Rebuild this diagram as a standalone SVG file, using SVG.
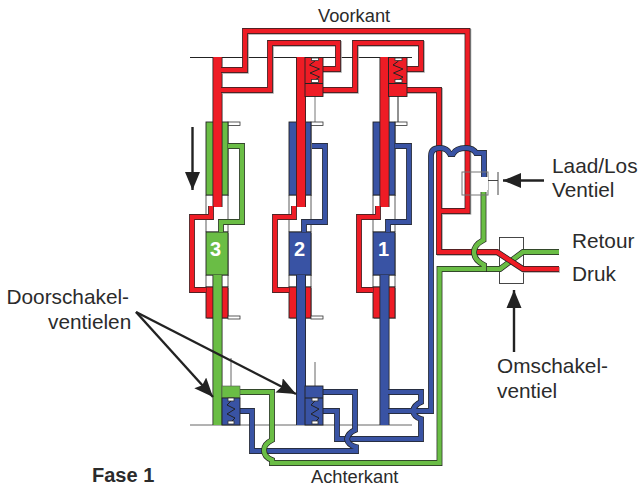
<svg xmlns="http://www.w3.org/2000/svg" xmlns:xlink="http://www.w3.org/1999/xlink" width="641" height="487" viewBox="0 0 641 487">
<style>
text{font-family:"Liberation Sans",Arial,sans-serif;font-size:20.8px;fill:#2b2b2b}
.small{font-size:18.3px}
.num{font-weight:bold;font-size:20px;fill:#fff}
.sh{fill:none;stroke:#a8a8a8;stroke-width:5.8}
.ed{fill:none;stroke:#222;stroke-width:5.8}
.r{fill:none;stroke:#ee1c25;stroke-width:4.4}
.g{fill:none;stroke:#6abd45;stroke-width:4.4}
.b{fill:none;stroke:#3953a4;stroke-width:4.4}
.hl{fill:none;stroke:#222;stroke-width:1}
.fr{fill:#ee1c25}.fg{fill:#6abd45}.fb{fill:#3953a4}
.box{stroke:#222;stroke-width:.9}
.shb{fill:#a8a8a8}
.wh{fill:#fff;stroke:#333;stroke-width:.8}
.ar{stroke:#222;stroke-width:2.4;fill:none}
.head{fill:#222}
.st{fill:none;stroke:#222;stroke-width:1}
</style>
<defs>
<marker id="ah" markerUnits="userSpaceOnUse" markerWidth="22" markerHeight="18" refX="19" refY="8" orient="auto"><path d="M0 0L19 8L0 16L3 8Z" class="head"/></marker>
<marker id="ah2" markerUnits="userSpaceOnUse" markerWidth="22" markerHeight="18" refX="18" refY="8" orient="auto"><path d="M0 0.500L18 8L0 15.500Z" class="head"/></marker>
<g id="cyl">
<rect x="207" y="123" width="22" height="73" class="shb"/>
<path d="M206 195h22v37h-22z" fill="#fff" stroke="#333" stroke-width=".8"/>
<rect x="207" y="233" width="22" height="43" class="shb"/>
<path d="M206 275h22v12h-22z" fill="#fff" stroke="#333" stroke-width=".8"/>
<rect x="207" y="288" width="22" height="31" class="shb"/>
<rect x="206" y="287" width="22" height="31" class="box fr"/>
<rect x="228" y="122" width="12" height="3.500" class="wh"/>
</g>
<path id="p1" d="M221 70H245V31H467.500V211H439"/>
<path id="p2" d="M221 90H270V43H338V69H322"/>
<path id="p3" d="M305 90H355V43H421V69H405"/>
<path id="p4" d="M388 90H439V252H497L523 269H559"/>
<path id="s1" d="M211 206V217H192V290H206"/>
<path id="s2" d="M294 206V217H275V290H289"/>
<path id="s3" d="M378 206V217H359V290H373"/>
<path id="g1" d="M228 146H242V222H221V232"/>
<path id="b2" d="M312 146H325V222H304V232"/>
<path id="b3" d="M395 146H409V222H388V232"/>
<path id="bb1" d="M240 411H252V451H356V447Q348 445 347 439Q348 433 355 430V392H323"/>
<path id="bb2" d="M323 411H337V439H421V419Q414 417 413 411Q414 405 421 402V392H388M388 411H431V156Q431 148 440 148Q447 148 450 154H453Q456 148 466 148Q473 148 476 153H484V178"/>
<path id="gg" d="M240 392H272V440Q264 444 264 450Q264 457 272 460V463H439.500V269H484V265Q474 260 474 252Q474 245 483.500 240V192"/>
<path id="gr" d="M484 269H500L523 252H559"/>
</defs>

<g id="lines">
<path d="M190 57.500H412" class="hl"/>
<path d="M190 425H412" stroke="#666" fill="none"/>
<path d="M315 82V122" stroke="#777" fill="none"/>
<path d="M398 82V122" stroke="#222" fill="none"/>
<path d="M231 358V398M315 362V398" stroke="#666" fill="none"/>
</g>

<g id="cylinder-3"><use xlink:href="#cyl"/><rect x="206" y="122" width="22" height="73" class="fg box"/><rect x="206" y="232" width="22" height="43" class="fg box"/><rect x="228" y="316" width="12" height="3" class="wh"/><text x="210" y="256" class="num">3</text></g>
<g id="cylinder-2" transform="translate(83,0)"><use xlink:href="#cyl"/><rect x="206" y="122" width="22" height="73" class="fb box"/><rect x="206" y="232" width="22" height="43" class="fb box"/><rect x="228" y="316" width="12" height="3" class="wh"/><text x="211" y="256" class="num">2</text></g>
<g id="cylinder-1" transform="translate(167,0)"><use xlink:href="#cyl"/><rect x="206" y="122" width="22" height="73" class="fb box"/><rect x="206" y="232" width="22" height="43" class="fb box"/><text x="211" y="256" class="num">1</text></g>

<g id="omschakel">
<rect x="499.500" y="237.500" width="24" height="46" fill="#fff" stroke="#333" stroke-width=".9"/>
</g>

<g id="connectors">
<path d="M217.500 275V425" stroke="#222" stroke-width="10" fill="none"/><path d="M217.500 275V425" stroke="#6abd45" stroke-width="8.400" fill="none"/>
<path d="M301 275V425" stroke="#222" stroke-width="10" fill="none"/><path d="M301 275V425" stroke="#3953a4" stroke-width="8.400" fill="none"/>
<path d="M384.500 275V425" stroke="#222" stroke-width="10" fill="none"/><path d="M384.500 275V425" stroke="#3953a4" stroke-width="8.400" fill="none"/>
<path d="M217.500 57V207" stroke="#222" stroke-width="10" fill="none"/><path d="M217.500 57V207" stroke="#ee1c25" stroke-width="8.400" fill="none"/>
<path d="M301 57V207" stroke="#222" stroke-width="10" fill="none"/><path d="M301 57V207" stroke="#ee1c25" stroke-width="8.400" fill="none"/>
<path d="M384.500 57V207" stroke="#222" stroke-width="10" fill="none"/><path d="M384.500 57V207" stroke="#ee1c25" stroke-width="8.400" fill="none"/>

<g transform="translate(.9,.9)"><use xlink:href="#p1" class="sh"/><use xlink:href="#p2" class="sh"/><use xlink:href="#p3" class="sh"/><use xlink:href="#p4" class="sh"/></g>
<use xlink:href="#gr" class="ed"/><use xlink:href="#gr" class="g"/>
<use xlink:href="#p1" class="ed"/><use xlink:href="#p2" class="ed"/><use xlink:href="#p3" class="ed"/><use xlink:href="#p4" class="ed"/>
<use xlink:href="#p1" class="r"/><use xlink:href="#p2" class="r"/><use xlink:href="#p3" class="r"/><use xlink:href="#p4" class="r"/>
<use xlink:href="#s1" class="ed"/><use xlink:href="#s2" class="ed"/><use xlink:href="#s3" class="ed"/>
<use xlink:href="#s1" class="r"/><use xlink:href="#s2" class="r"/><use xlink:href="#s3" class="r"/>
<use xlink:href="#g1" class="ed"/><use xlink:href="#g1" class="g"/>
<use xlink:href="#b2" class="ed"/><use xlink:href="#b2" class="b"/>
<use xlink:href="#b3" class="ed"/><use xlink:href="#b3" class="b"/>
<use xlink:href="#bb2" class="ed"/><use xlink:href="#bb2" class="b"/>
<use xlink:href="#bb1" class="ed"/><use xlink:href="#bb1" class="b"/>
<use xlink:href="#gg" class="ed"/><use xlink:href="#gg" class="g"/>
</g>

<g id="valve-2">
<rect x="305" y="57.500" width="18" height="39" class="fr box"/>
<path d="M305 83.500H323" class="st"/>
<path d="M315 61L309.500 65L319.500 69L310 73L319.500 77L315 80" class="st"/>
<rect x="311.500" y="58" width="7" height="2.500" class="wh"/><rect x="311.500" y="79.500" width="7" height="3" class="wh"/>
</g>
<g id="valve-1">
<rect x="388.500" y="57.500" width="18.500" height="39" class="fr box"/>
<path d="M388.500 83.500H407" class="st"/>
<path d="M398.500 61L393 65L403 69L393.500 73L403 77L398.500 80" class="st"/>
<rect x="395" y="58" width="7" height="2.500" class="wh"/><rect x="395" y="79.500" width="7" height="3" class="wh"/>
</g>
<g id="valve-bottom-3">
<rect x="222" y="386" width="18" height="12" class="fg" stroke="#555" stroke-width=".6"/>
<rect x="222" y="398" width="18" height="27" class="fb box"/>
<path d="M231 401L227 405L235 409L227 414L235 418L231 422" class="st"/>
<rect x="228" y="398" width="6" height="3" class="wh"/><rect x="228" y="421" width="6" height="3" class="wh"/>
</g>
<g id="valve-bottom-2">
<rect x="305" y="386" width="18" height="39" class="fb box"/>
<path d="M305 398H323" class="st"/>
<path d="M315 401L311 405L319 409L311 414L319 418L315 422" class="st"/>
<rect x="312" y="398" width="6" height="3" class="wh"/><rect x="312" y="421" width="6" height="3" class="wh"/>
</g>

<g id="laad-los">
<rect x="462" y="172" width="26" height="23" fill="none" stroke="#777" stroke-width="1"/>
<rect x="479" y="177" width="9" height="13" fill="#fff"/>
<path d="M488 180.500H498M498 172V195" stroke="#444" fill="none"/>
</g>

<g id="arrows">
<path d="M192.500 127V190" class="ar" marker-end="url(#ah2)"/>
<path d="M544 180.500H503" class="ar" marker-end="url(#ah2)"/>
<path d="M514 352V290" class="ar" marker-end="url(#ah2)"/>
<path d="M136 312L213 397" class="ar" marker-end="url(#ah)"/>
<path d="M136 312L296 394" class="ar" marker-end="url(#ah)"/>
</g>

<g id="labels">
<text x="318" y="22" class="small">Voorkant</text>
<text x="552" y="172.500">Laad/Los</text>
<text x="552" y="196.500">Ventiel</text>
<text x="572" y="247.500">Retour</text>
<text x="572" y="280.500">Druk</text>
<text x="6.500" y="304">Doorschakel-</text>
<text x="48" y="329">ventielen</text>
<text x="497" y="373">Omschakel-</text>
<text x="497" y="398">ventiel</text>
<text x="311" y="482.500" class="small">Achterkant</text>
<text x="92" y="481.500" font-weight="bold" style="font-size:20px">Fase 1</text>
</g>
</svg>
